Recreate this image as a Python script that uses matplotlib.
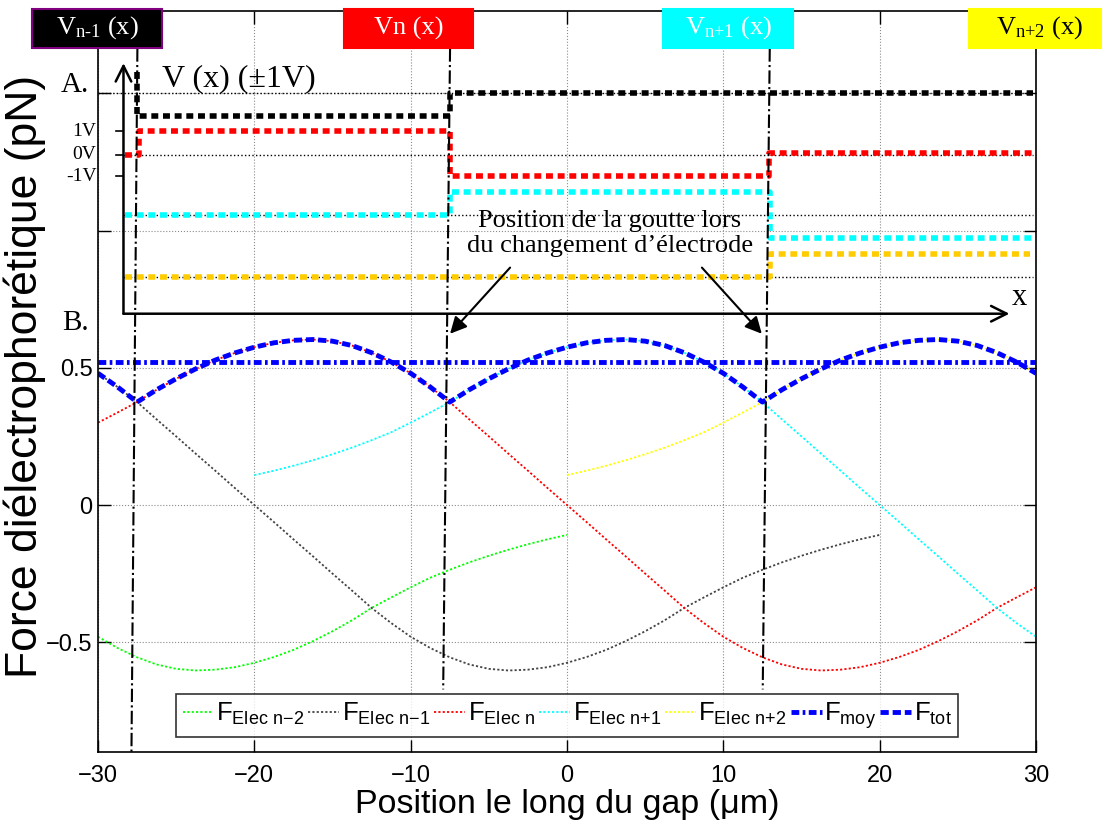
import numpy as np
import matplotlib
matplotlib.use('Agg')
import matplotlib.pyplot as plt
from matplotlib.patches import Rectangle

W, H = 1102, 834

# sampling positions along the gap (um), every 1.25 um from -30 to 30
x_pos = np.linspace(-30, 30, 49)

# forces (pN)
f_elec_nm2 = [-0.48, -0.521, -0.555, -0.581, -0.597, -0.603, -0.600, -0.591, -0.575,
              -0.554, -0.528, -0.496, -0.46, -0.42, -0.375, -0.337, -0.300, -0.265,
              -0.236, -0.209, -0.185, -0.163, -0.143, -0.125, -0.109]      # x = -30 .. 0
f_elec_nm1 = [0.48, 0.43, 0.375, 0.312, 0.25, 0.187, 0.125, 0.062, 0.0,
              -0.062, -0.125, -0.187, -0.25, -0.312, -0.375, -0.43, -0.48, -0.521,
              -0.555, -0.581, -0.597, -0.603, -0.600, -0.591, -0.575, -0.554, -0.528,
              -0.496, -0.46, -0.42, -0.375, -0.337, -0.300, -0.265, -0.236, -0.209,
              -0.185, -0.163, -0.143, -0.125, -0.109]                      # x = -30 .. 20
f_elec_n = [0.300, 0.337, 0.375, 0.42, 0.46, 0.496, 0.528, 0.554, 0.575, 0.591, 0.600,
            0.603, 0.597, 0.581, 0.555, 0.521, 0.48, 0.43, 0.375, 0.312, 0.25, 0.187,
            0.125, 0.062, 0.0, -0.062, -0.125, -0.187, -0.25, -0.312, -0.375, -0.43,
            -0.48, -0.521, -0.555, -0.581, -0.597, -0.603, -0.600, -0.591, -0.575,
            -0.554, -0.528, -0.496, -0.46, -0.42, -0.375, -0.337, -0.300]   # x = -30 .. 30
f_elec_np1 = [0.109, 0.125, 0.143, 0.163, 0.185, 0.209, 0.236, 0.265, 0.300, 0.337,
              0.375, 0.42, 0.46, 0.496, 0.528, 0.554, 0.575, 0.591, 0.600, 0.603,
              0.597, 0.581, 0.555, 0.521, 0.48, 0.43, 0.375, 0.312, 0.25, 0.187, 0.125,
              0.062, 0.0, -0.062, -0.125, -0.187, -0.25, -0.312, -0.375, -0.43,
              -0.48]                                                        # x = -20 .. 30
f_elec_np2 = [0.109, 0.125, 0.143, 0.163, 0.185, 0.209, 0.236, 0.265, 0.300, 0.337,
              0.375, 0.42, 0.46, 0.496, 0.528, 0.554, 0.575, 0.591, 0.600, 0.603,
              0.597, 0.581, 0.555, 0.521, 0.48]                             # x = 0 .. 30
f_tot = [0.48, 0.43, 0.375, 0.42, 0.46, 0.496, 0.528, 0.554, 0.575, 0.591, 0.600, 0.603,
         0.597, 0.581, 0.555, 0.521, 0.48, 0.43, 0.375, 0.42, 0.46, 0.496, 0.528, 0.554,
         0.575, 0.591, 0.600, 0.603, 0.597, 0.581, 0.555, 0.521, 0.48, 0.43, 0.375, 0.42,
         0.46, 0.496, 0.528, 0.554, 0.575, 0.591, 0.600, 0.603, 0.597, 0.581, 0.555,
         0.521, 0.48]
f_moy = 0.52

# schematic A: electrode voltages drawn in the upper part
v_nm1_x = [-27.48, -27.48, -7.5, -7.5, 29.84]
v_nm1_y = [1.577, 1.416, 1.416, 1.5, 1.5]
v_n_x = [-28.3, -27.4, -27.4, -7.5, -7.5, 12.9, 12.9, 29.84]
v_n_y = [1.277, 1.277, 1.361, 1.361, 1.197, 1.197, 1.283, 1.283]
v_np1_x = [-28.3, -7.5, -7.5, 12.97, 12.97, 29.84]
v_np1_y = [1.058, 1.058, 1.139, 1.139, 0.974, 0.974]
v_np2_x = [-28.3, 12.97, 12.97, 29.6]
v_np2_y = [0.832, 0.832, 0.916, 0.916]
ref_levels = [1.5, 1.277, 1.058, 0.832]
v_ticks = [1.361, 1.277, 1.197]
v_tick_labels = ['1V', '0V', '-1V']

# electrode switching positions (dash-dot lines)
switch_top = [-27.48, -7.48, 12.97]
switch_bot = [-27.86, -7.92, 12.52]
switch_end = [-0.9, -0.672, -0.672]

sans = ['Liberation Sans', 'DejaVu Sans']
serif = ['Liberation Serif', 'DejaVu Serif']

fig = plt.figure(figsize=(W / 100, H / 100), dpi=100)
ax = fig.add_axes([98 / W, 82 / H, 938 / W, 741 / H])
ax.set_xlim(-30, 30)
ax.set_ylim(-0.9, 1.8)

# force curves
dot = (0, (1.2, 1.2))
ax.plot(x_pos[:25], f_elec_nm2, color='#00ff00', lw=1.3, ls=dot,
        label=r'$\mathregular{F_{Elec\ n{-}2}}$')
ax.plot(x_pos[:41], f_elec_nm1, color='#444444', lw=1.3, ls=dot,
        label=r'$\mathregular{F_{Elec\ n{-}1}}$')
ax.plot(x_pos, f_elec_n, color='#ff0000', lw=1.3, ls=dot,
        label=r'$\mathregular{F_{Elec\ n}}$')
ax.plot(x_pos[8:], f_elec_np1, color='#00ffff', lw=1.3, ls=dot,
        label=r'$\mathregular{F_{Elec\ n{+}1}}$')
ax.plot(x_pos[24:], f_elec_np2, color='#ffff00', lw=1.3, ls=dot,
        label=r'$\mathregular{F_{Elec\ n{+}2}}$')
ax.plot([x_pos[0], x_pos[-1]], [f_moy, f_moy], color='#0000ff', lw=3.5,
        ls=(0, (1.6, 0.7, 0.55, 0.7)), label=r'$\mathregular{F_{moy}}$')
ax.plot(x_pos, f_tot, color='#0000ff', lw=3.5, ls=(0, (1.7, 0.8)),
        label=r'$\mathregular{F_{tot}}$')

# schematic A
for lvl in ref_levels:
    ax.plot([-28.37 if lvl != 1.5 else -30, 29.84], [lvl, lvl], color='k', lw=1, ls=':')
step_kw = dict(lw=4, ls=(0, (1.25, 0.85)), solid_capstyle='butt', dash_capstyle='butt')
ax.plot(v_nm1_x, v_nm1_y, color='black', **step_kw)
ax.plot(v_n_x, v_n_y, color='#ff0000', **step_kw)
ax.plot(v_np1_x, v_np1_y, color='#00ffff', **step_kw)
ax.plot(v_np2_x, v_np2_y, color='#ffcc00', **step_kw)

ax.annotate('', xy=(-28.37, 1.61), xytext=(-28.37, 0.697),
            arrowprops=dict(arrowstyle='->', lw=1.8, mutation_scale=28, shrinkA=0, shrinkB=0))
ax.annotate('', xy=(28.3, 0.697), xytext=(-28.37, 0.697),
            arrowprops=dict(arrowstyle='->', lw=1.8, mutation_scale=28, shrinkA=0, shrinkB=0))
for yv, lab in zip(v_ticks, v_tick_labels):
    ax.plot([-28.88, -28.37], [yv, yv], color='k', lw=1.2, clip_on=False)
    ax.text(-30.1, yv, lab, ha='right', va='center', fontsize=14, family=serif,
            clip_on=False)
ax.text(-25.88, 1.555, 'V (x) (\u00b11V)', ha='left', va='center', fontsize=23, family=serif)
ax.text(28.45, 0.755, 'x', ha='left', va='center', fontsize=22, family=serif)
ax.text(-31.45, 1.53, 'A.', ha='center', va='center', fontsize=21, family=serif)
ax.text(-31.45, 0.664, 'B.', ha='center', va='center', fontsize=21, family=serif)

for xt, xb, yb in zip(switch_top, switch_bot, switch_end):
    ax.plot([xt, xb], [1.664, yb], color='k', lw=1.5, ls='-.', clip_on=False)

ax.text(2.75, 0.99, 'Position de la goutte lors\ndu changement d\u2019\u00e9lectrode',
        ha='center', va='center', fontsize=19, family=serif, linespacing=1.15)
ax.annotate('', xy=(-7.48, 0.624), xytext=(-3.64, 0.865),
            arrowprops=dict(arrowstyle='-|>', lw=1.5, mutation_scale=25, color='k',
                            shrinkA=0, shrinkB=0))
ax.annotate('', xy=(12.46, 0.624), xytext=(8.63, 0.865),
            arrowprops=dict(arrowstyle='-|>', lw=1.5, mutation_scale=25, color='k',
                            shrinkA=0, shrinkB=0))

# axes styling
ax.set_xticks([-30, -20, -10, 0, 10, 20, 30])
ax.set_xticklabels(['\u221230', '\u221220', '\u221210', '0', '10', '20', '30'])
ax.set_yticks([-0.5, 0, 0.5, 1, 1.5])
ax.set_yticklabels(['\u22120.5', '0', '0.5', '', ''])
ax.tick_params(direction='in', top=True, right=True, length=9, width=1, labelsize=17)
ax.tick_params(axis='x', pad=9)
ax.tick_params(axis='y', pad=4)
for lab in ax.get_xticklabels() + ax.get_yticklabels():
    lab.set_family(sans)
ax.grid(True, ls=':', color='#8c8c8c', lw=0.8)
ax.set_axisbelow(True)
for s in ax.spines.values():
    s.set_linewidth(1.2)

ax.set_xlabel('Position le long du gap (\u03bcm)', fontsize=24.5, family=sans, labelpad=2)
ax.set_ylabel('Force di\u00e9lectrophor\u00e9tique (pN)', fontsize=32, family=sans)
ax.yaxis.set_label_coords(-0.0555, 0.507)

leg = ax.legend(loc='center', bbox_to_anchor=(0.5, 0.049), ncol=7, frameon=True,
                prop={'family': sans, 'size': 18.5}, handlelength=1.2, handletextpad=0.1,
                columnspacing=0.15, borderpad=0.25, borderaxespad=0, fancybox=False)
leg.get_frame().set_edgecolor('black')
leg.get_frame().set_linewidth(1.2)

# electrode labels on top
boxes = [('$\\mathregular{V_{n\u20101}}$ (x)', 32, 162, 'black', 'white', '#800080'),
         ('Vn (x)', 344, 473, '#ff0000', 'white', '#ff0000'),
         ('$\\mathregular{V_{n{+}1}}$ (x)', 663, 793, '#00ffff', 'white', '#00ffff'),
         ('$\\mathregular{V_{n{+}2}}$ (x)', 969, 1110, '#ffff00', 'black', '#ffff00')]
for lab, x0, x1, fc, tc, ec in boxes:
    fig.add_artist(Rectangle((x0 / W, 1 - 48 / H), (x1 - x0) / W, 39 / H,
                             transform=fig.transFigure, facecolor=fc, edgecolor=ec, lw=1.5))
    cx = (x0 + min(x1, 1102)) / 2 + (4 if x1 > 1102 else 0)
    fig.text(cx / W, 1 - 28 / H, lab, ha='center', va='center', color=tc,
             fontsize=19, family=serif)

fig.savefig('out.png', dpi=100)
